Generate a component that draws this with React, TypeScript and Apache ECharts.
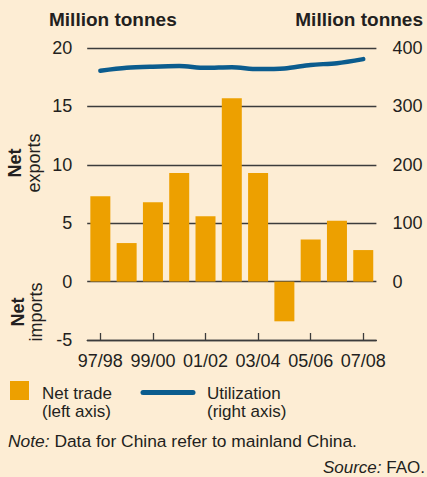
import React, { useEffect, useRef } from "react";
import * as echarts from "echarts";

const categories = ["97/98", "98/99", "99/00", "00/01", "01/02", "02/03", "03/04", "04/05", "05/06", "06/07", "07/08"];
const netTrade = [7.3, 3.3, 6.8, 9.3, 5.6, 15.7, 9.3, -3.4, 3.6, 5.2, 2.7];
const utilization = [361, 366, 368, 369, 366, 367, 364, 365, 371, 374, 381];
const leftTicks = { min: -5, max: 20, interval: 5 };
const rightTicks = { min: -100, max: 400, interval: 100 };

const FONT = "'Liberation Sans', Arial, Helvetica, sans-serif";
const TXT = "#231f20";
const BG = "#fdedd4";
const ORANGE = "#eda000";
const BLUE = "#0b5c8e";
const GRID = "#3c3c3c";

export default function App() {
  const ref = useRef<HTMLDivElement>(null);
  useEffect(() => {
    if (!ref.current) return;
    const chart = echarts.init(ref.current, undefined, { renderer: "svg" });
    chart.setOption({
      animation: false,
      backgroundColor: BG,
      textStyle: { fontFamily: FONT },
      grid: { left: 87.2, right: 50.6, top: 48, bottom: 137, containLabel: false },
      xAxis: {
        type: "category",
        data: categories,
        position: "bottom",
        axisLine: { show: true, onZero: false, lineStyle: { color: GRID, width: 1.3 } },
        axisTick: { show: true, inside: true, length: 7, interval: 1, alignWithLabel: true, lineStyle: { color: GRID, width: 1.3 } },
        axisLabel: { interval: 1, fontSize: 18, color: TXT, margin: 12, fontFamily: FONT },
      },
      yAxis: [
        {
          type: "value",
          min: leftTicks.min,
          max: leftTicks.max,
          interval: leftTicks.interval,
          axisLine: { show: false },
          axisTick: { show: false },
          axisLabel: { fontSize: 18, color: TXT, margin: 15, fontFamily: FONT },
          splitLine: { show: true, lineStyle: { color: GRID, width: 1.3 } },
        },
        {
          type: "value",
          position: "right",
          min: rightTicks.min,
          max: rightTicks.max,
          interval: rightTicks.interval,
          axisLine: { show: false },
          axisTick: { show: false },
          axisLabel: {
            fontSize: 18,
            color: TXT,
            margin: 16,
            fontFamily: FONT,
            formatter: (v: number) => (v < 0 ? "" : String(v)),
          },
          splitLine: { show: false },
        },
      ],
      series: [
        {
          name: "Net trade",
          type: "bar",
          data: netTrade,
          barWidth: 20,
          itemStyle: { color: ORANGE },
          yAxisIndex: 0,
        },
        {
          name: "Utilization",
          type: "line",
          data: utilization,
          yAxisIndex: 1,
          showSymbol: false,
          smooth: 0.3,
          lineStyle: { color: BLUE, width: 4.5, cap: "round" },
          z: 5,
        },
      ],
      graphic: [
        { type: "text", left: 49, top: 10, style: { text: "Million tonnes", font: `bold 19px ${FONT}`, fill: TXT } },
        { type: "text", right: 4, top: 10, style: { text: "Million tonnes", font: `bold 19px ${FONT}`, fill: TXT } },
        { type: "text", x: 15, y: 163, rotation: Math.PI / 2, style: { text: "Net", font: `bold 18px ${FONT}`, fill: TXT, align: "center", verticalAlign: "middle" } },
        { type: "text", x: 34, y: 163, rotation: Math.PI / 2, style: { text: "exports", font: `18px ${FONT}`, fill: TXT, align: "center", verticalAlign: "middle" } },
        { type: "text", x: 18, y: 312, rotation: Math.PI / 2, style: { text: "Net", font: `bold 18px ${FONT}`, fill: TXT, align: "center", verticalAlign: "middle" } },
        { type: "text", x: 36, y: 312, rotation: Math.PI / 2, style: { text: "imports", font: `18px ${FONT}`, fill: TXT, align: "center", verticalAlign: "middle" } },
        { type: "rect", shape: { x: 10, y: 381, width: 19, height: 19 }, style: { fill: ORANGE } },
        { type: "text", x: 42, y: 393, style: { text: "Net trade", font: `17px ${FONT}`, fill: TXT, verticalAlign: "middle" } },
        { type: "text", x: 42, y: 411, style: { text: "(left axis)", font: `17px ${FONT}`, fill: TXT, verticalAlign: "middle" } },
        { type: "line", shape: { x1: 143, y1: 392.5, x2: 193, y2: 392.5 }, style: { stroke: BLUE, lineWidth: 5, lineCap: "round" } },
        { type: "text", x: 207, y: 393, style: { text: "Utilization", font: `17px ${FONT}`, fill: TXT, verticalAlign: "middle" } },
        { type: "text", x: 207, y: 411, style: { text: "(right axis)", font: `17px ${FONT}`, fill: TXT, verticalAlign: "middle" } },
        {
          type: "text",
          x: 8,
          y: 441,
          style: {
            text: "{i|Note:} {r|Data for China refer to mainland China.}",
            font: `17.4px ${FONT}`,
            fill: TXT,
            verticalAlign: "middle",
            rich: {
              i: { fontStyle: "italic", fontSize: 17.4, fontFamily: FONT, fill: TXT },
              r: { fontSize: 17.4, fontFamily: FONT, fill: TXT },
            },
          },
        },
        {
          type: "text",
          x: 425,
          y: 467,
          style: {
            text: "{i|Source:} {r|FAO.}",
            font: `17px ${FONT}`,
            fill: TXT,
            align: "right",
            verticalAlign: "middle",
            rich: {
              i: { fontStyle: "italic", fontSize: 17, fontFamily: FONT, fill: TXT },
              r: { fontSize: 17, fontFamily: FONT, fill: TXT },
            },
          },
        },
      ],
    });
    return () => chart.dispose();
  }, []);
  return <div ref={ref} style={{ position: "fixed", left: 0, top: 0, width: 427, height: 477 }} />;
}
